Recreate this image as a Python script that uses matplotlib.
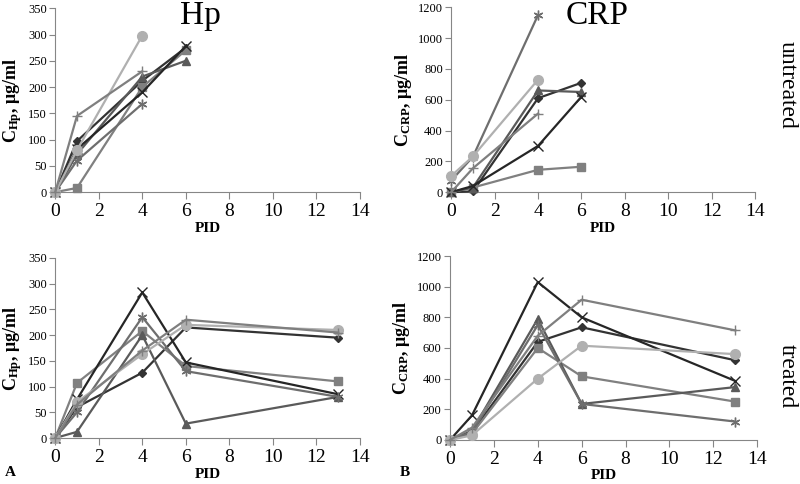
import matplotlib.pyplot as plt
import numpy as np

plt.rcParams['font.family'] = ['Liberation Serif', 'DejaVu Serif']
plt.rcParams['mathtext.fontset'] = 'custom'
plt.rcParams['mathtext.rm'] = 'Liberation Serif'
plt.rcParams['mathtext.bf'] = 'Liberation Serif:bold'

# --- data (PID = post-infection day) ---
pid_untreated = [0, 1, 4, 6]
pid_treated = [0, 1, 4, 6, 13]

# Hp, untreated (None = no sample)
hp_u_diamond = [0, 97, 212, 275]
hp_u_square = [0, 8, 200, 270]
hp_u_triangle = [0, 72, 220, 250]
hp_u_x = [0, 82, 190, 278]
hp_u_star = [0, 60, 168, None]
hp_u_circle = [0, 80, 298, None]
hp_u_plus = [0, 145, 230, None]

# CRP, untreated
crp_u_diamond = [0, 5, 610, 710]
crp_u_square = [0, 30, 145, 165]
crp_u_triangle = [0, 30, 660, 650]
crp_u_x = [0, 40, 300, 620]
crp_u_star = [75, 230, 1150, None]
crp_u_circle = [105, 232, 730, None]
crp_u_plus = [0, 155, 510, None]

# Hp, treated
hp_t_diamond = [0, 60, 127, 215, 195]
hp_t_square = [0, 107, 208, 140, 110]
hp_t_triangle = [0, 12, 200, 28, 80]
hp_t_x = [0, 75, 283, 147, 85]
hp_t_star = [0, 50, 235, 130, 80]
hp_t_circle = [0, 70, 163, 220, 210]
hp_t_plus = [0, 65, 170, 230, 205]

# CRP, treated
crp_t_diamond = [0, 50, 640, 735, 520]
crp_t_square = [0, 40, 600, 415, 250]
crp_t_triangle = [0, 60, 790, 235, 345]
crp_t_x = [0, 160, 1030, 800, 385]
crp_t_star = [0, 50, 750, 235, 120]
crp_t_circle = [0, 30, 400, 615, 560]
crp_t_plus = [0, 80, 680, 915, 715]

# marker / colour / size per series (Excel grayscale style)
styles = [
    ('D', '#333333', 4.5),
    ('s', '#808080', 6),
    ('^', '#5a5a5a', 6),
    ('x', '#262626', 6.5),
    ((6, 2, 0), '#6e6e6e', 7),
    ('o', '#b0b0b0', 7),
    ('+', '#7f7f7f', 7),
]


def draw(ax, x, series, ymax, ystep, ylabel):
    for ys, (mk, col, ms) in zip(series, styles):
        xs = [xi for xi, yi in zip(x, ys) if yi is not None]
        vs = [yi for yi in ys if yi is not None]
        ax.plot(xs, vs, color=col, lw=1.6, marker=mk, ms=ms,
                mec=col, mfc=col, mew=1.0, clip_on=False, zorder=3)
    ax.set_xlim(0, 14)
    ax.set_ylim(0, ymax)
    ax.set_xticks(np.arange(0, 15, 2))
    ax.set_yticks(np.arange(0, ymax + 1, ystep))
    for s in ['top', 'right']:
        ax.spines[s].set_visible(False)
    for s in ['left', 'bottom']:
        ax.spines[s].set_color('#868686')
    ax.tick_params(axis='x', labelsize=14, direction='out', length=5,
                   color='#868686', pad=3)
    ax.tick_params(axis='y', labelsize=9, direction='out', length=4,
                   color='#868686', pad=2)
    ax.set_xlabel('PID', fontsize=11, fontweight='bold', labelpad=1)
    ax.set_ylabel(ylabel, fontsize=13, fontweight='bold', labelpad=3)


fig = plt.figure(figsize=(8, 4.84), dpi=100)
ax_tl = fig.add_axes([0.069, 0.603, 0.381, 0.380])
ax_tr = fig.add_axes([0.564, 0.603, 0.380, 0.382])
ax_bl = fig.add_axes([0.069, 0.095, 0.381, 0.372])
ax_br = fig.add_axes([0.5625, 0.091, 0.384, 0.380])

lab_hp = r'$\mathbf{C_{Hp}}$, μg/ml'
lab_crp = r'$\mathbf{C_{CRP}}$, μg/ml'

draw(ax_tl, pid_untreated,
     [hp_u_diamond, hp_u_square, hp_u_triangle, hp_u_x, hp_u_star, hp_u_circle, hp_u_plus],
     350, 50, lab_hp)
draw(ax_tr, pid_untreated,
     [crp_u_diamond, crp_u_square, crp_u_triangle, crp_u_x, crp_u_star, crp_u_circle, crp_u_plus],
     1200, 200, lab_crp)
draw(ax_bl, pid_treated,
     [hp_t_diamond, hp_t_square, hp_t_triangle, hp_t_x, hp_t_star, hp_t_circle, hp_t_plus],
     350, 50, lab_hp)
draw(ax_br, pid_treated,
     [crp_t_diamond, crp_t_square, crp_t_triangle, crp_t_x, crp_t_star, crp_t_circle, crp_t_plus],
     1200, 200, lab_crp)

fig.text(200 / 800, 1 - 16 / 484, 'Hp', fontsize=24, ha='center', va='center')
fig.text(597 / 800, 1 - 16 / 484, 'CRP', fontsize=24, ha='center', va='center')
fig.text(787 / 800, 1 - 85 / 484, 'untreated', fontsize=17, rotation=-90,
         ha='center', va='center')
fig.text(787 / 800, 1 - 376 / 484, 'treated', fontsize=17, rotation=-90,
         ha='center', va='center')
fig.text(10 / 800, 1 - 472 / 484, 'A', fontsize=11, fontweight='bold',
         ha='center', va='center')
fig.text(405 / 800, 1 - 472 / 484, 'B', fontsize=11, fontweight='bold',
         ha='center', va='center')

fig.savefig('out.png', dpi=100)
